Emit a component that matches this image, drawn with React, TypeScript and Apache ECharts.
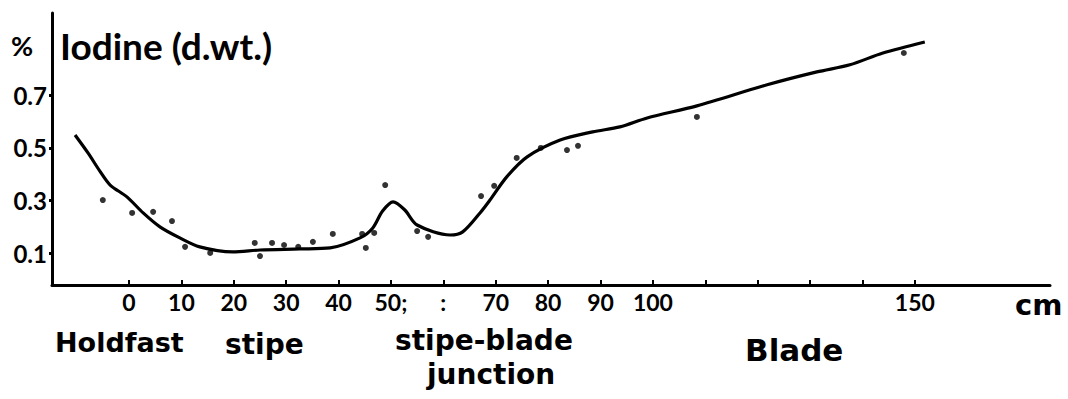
import React, { useEffect, useRef } from "react";
import * as echarts from "echarts";

// Smoothed iodine curve along the thallus: [position cm, % iodine of dry weight]
const curveCm = [-10.3, -7.8, -5.5, -3.6, -0.4, 2.7, 5.9, 9.7, 13.5, 19.8, 25.0, 32.6, 38.4, 44.1, 46.5, 48.4, 50.4, 52.6, 55.0, 61.3, 63.7, 67.0, 68.9, 72.1, 76.0, 82.3, 88.5, 93.7, 98.9, 108.4, 121.8, 131.3, 137.6, 143.9, 151.9];
const curveIodine = [0.549, 0.48, 0.41, 0.359, 0.314, 0.253, 0.2, 0.158, 0.124, 0.105, 0.112, 0.116, 0.12, 0.158, 0.195, 0.26, 0.295, 0.265, 0.207, 0.169, 0.181, 0.253, 0.302, 0.39, 0.466, 0.53, 0.561, 0.58, 0.614, 0.66, 0.74, 0.789, 0.816, 0.861, 0.903];

// Individual measurements
const sampleCm = [-5.0, 0.6, 4.6, 8.2, 10.7, 15.5, 24.0, 25.0, 27.3, 29.6, 32.3, 35.1, 38.9, 44.5, 45.2, 46.8, 48.9, 55.0, 57.1, 67.2, 69.7, 74.0, 78.6, 83.6, 85.7, 108.4, 147.9];
const sampleIodine = [0.302, 0.253, 0.257, 0.222, 0.124, 0.101, 0.139, 0.089, 0.139, 0.131, 0.124, 0.143, 0.173, 0.173, 0.12, 0.177, 0.359, 0.184, 0.162, 0.317, 0.356, 0.462, 0.5, 0.492, 0.508, 0.618, 0.861];

// Axis marks
const xTickValues = [0, 10, 20, 30, 40, 50, 60, 70, 80, 90, 100, 110, 120, 130, 140, 150];
const xLabelValues = [0, 10, 20, 30, 40, 50, 60, 70, 80, 90, 100, 150];
const xLabelText: Record<number, string> = { 50: "50;", 60: ":" };
const yLabelValues = [0.1, 0.3, 0.5, 0.7];

// Region names under the axis
const regions = [
  { name: "Holdfast", left: 55, top: 329, size: 27 },
  { name: "stipe", left: 225, top: 330, size: 28 },
  { name: "stipe-blade", left: 395, top: 326, size: 28 },
  { name: "junction", left: 427, top: 360, size: 28 },
  { name: "Blade", left: 745, top: 334, size: 31 },
];

const LABEL_FONT = "Lato";
const NAME_FONT = "DejaVu Sans";
const INK = "#000";

export default function App() {
  const ref = useRef<HTMLDivElement>(null);

  useEffect(() => {
    document.body.style.margin = "0";
    if (!ref.current) return;
    const chart = echarts.init(ref.current, undefined, { renderer: "svg" });

    const curve = curveCm.map((c, i) => [c, curveIodine[i]]);
    const samples = sampleCm.map((c, i) => [c, sampleIodine[i]]);

    const textStyle = (family: string, size: number) => ({
      fill: INK,
      fontFamily: family,
      fontSize: size,
      fontWeight: "bold" as const,
    });

    chart.setOption({
      animation: false,
      backgroundColor: "#fff",
      grid: { left: 52, right: 18, top: 13, bottom: 114, containLabel: false },
      xAxis: {
        type: "value",
        min: -14.7,
        max: 175.8,
        splitLine: { show: false },
        axisLine: { onZero: false, lineStyle: { color: INK, width: 3 } },
        axisTick: {
          show: true,
          inside: true,
          length: 5,
          customValues: xTickValues,
          lineStyle: { color: INK, width: 2 },
        },
        axisLabel: {
          customValues: xLabelValues,
          margin: 5,
          color: INK,
          fontFamily: LABEL_FONT,
          fontSize: 23,
          fontWeight: "bold",
          formatter: (v: number) => xLabelText[v] ?? String(v),
        },
      },
      yAxis: {
        type: "value",
        min: -0.021,
        max: 1.013,
        splitLine: { show: false },
        axisLine: { onZero: false, lineStyle: { color: INK, width: 3 } },
        axisTick: {
          show: true,
          length: 3,
          customValues: yLabelValues,
          lineStyle: { color: INK, width: 3 },
        },
        axisLabel: {
          customValues: yLabelValues,
          margin: 5,
          color: INK,
          fontFamily: LABEL_FONT,
          fontSize: 24,
          fontWeight: "bold",
          formatter: (v: number) => v.toFixed(1),
        },
      },
      series: [
        {
          type: "line",
          data: curve,
          smooth: 0.3,
          showSymbol: false,
          lineStyle: { color: INK, width: 3.2 },
          z: 2,
        },
        {
          type: "scatter",
          data: samples,
          symbol: "circle",
          symbolSize: 6,
          itemStyle: { color: INK },
          z: 3,
        },
      ],
      graphic: [
        { type: "text", left: 11, top: 32, style: { text: "%", ...textStyle(LABEL_FONT, 27) } },
        { type: "text", left: 60, top: 27, style: { text: "Iodine (d.wt.)", ...textStyle(LABEL_FONT, 37) } },
        { type: "text", left: 1015, top: 290, style: { text: "cm", ...textStyle(NAME_FONT, 29) } },
        ...regions.map((r) => ({
          type: "text",
          left: r.left,
          top: r.top,
          style: { text: r.name, ...textStyle(NAME_FONT, r.size) },
        })),
      ],
    });

    return () => chart.dispose();
  }, []);

  return <div ref={ref} style={{ width: 1068, height: 399 }} />;
}
